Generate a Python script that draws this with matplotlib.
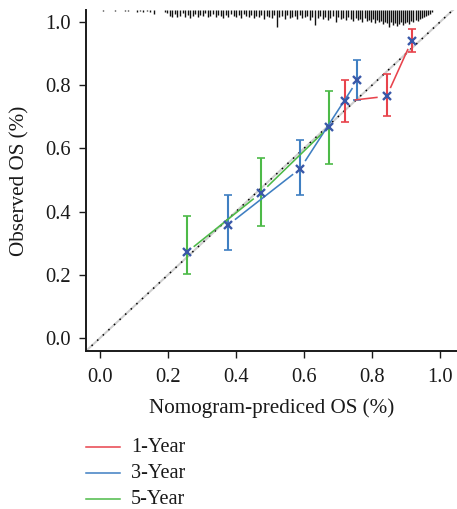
import matplotlib
matplotlib.use("Agg")
import matplotlib.pyplot as plt
import numpy as np

plt.rcParams["font.family"] = ["Liberation Serif", "DejaVu Serif"]

# Calibration groups: nomogram-predicted vs. observed overall survival
pred_1y = [0.722, 0.843, 0.917]
obs_1y = [0.750, 0.765, 0.941]
lo_1y = [0.684, 0.703, 0.906]
hi_1y = [0.816, 0.835, 0.978]

pred_3y = [0.376, 0.589, 0.757]
obs_3y = [0.357, 0.536, 0.815]
lo_3y = [0.278, 0.453, 0.753]
hi_3y = [0.453, 0.627, 0.880]

pred_5y = [0.255, 0.473, 0.674]
obs_5y = [0.271, 0.459, 0.669]
lo_5y = [0.202, 0.354, 0.551]
hi_5y = [0.386, 0.569, 0.783]

series_names = ["1-Year", "3-Year", "5-Year"]
series_colors = ["#e8434c", "#3f7fc2", "#4dba48"]

# Frequency rug of predicted probabilities along the top edge
rug_x = [0.010, 0.044, 0.074, 0.083, 0.108, 0.118, 0.128, 0.137, 0.147, 0.160,
         0.190, 0.197, 0.205, 0.212, 0.220, 0.228, 0.235, 0.243, 0.250, 0.258,
         0.265, 0.273, 0.280, 0.288, 0.295, 0.303, 0.310, 0.318, 0.325, 0.333,
         0.340, 0.348, 0.355, 0.363, 0.370, 0.378, 0.385, 0.393, 0.400, 0.408,
         0.415, 0.423, 0.430, 0.438, 0.445, 0.453, 0.460, 0.468, 0.475, 0.483,
         0.490, 0.498, 0.505, 0.513, 0.520, 0.528, 0.535, 0.543, 0.550, 0.558,
         0.565, 0.573, 0.580, 0.588, 0.595, 0.603, 0.610, 0.618, 0.625, 0.633,
         0.640, 0.648, 0.655, 0.663, 0.670, 0.678, 0.685, 0.693, 0.700, 0.708,
         0.715, 0.723, 0.730, 0.738, 0.745, 0.753, 0.760, 0.766, 0.772, 0.778,
         0.784, 0.790, 0.796, 0.802, 0.808, 0.814, 0.820, 0.826, 0.832, 0.838,
         0.844, 0.850, 0.856, 0.862, 0.868, 0.874, 0.880, 0.886, 0.892, 0.898,
         0.904, 0.910, 0.916, 0.922, 0.928, 0.934, 0.940, 0.946, 0.952, 0.958,
         0.964, 0.970, 0.976]
rug_n = [1, 1, 1, 1, 2, 1, 2, 1, 2, 4,
         2, 3, 6, 7, 4, 7, 6, 3, 7, 5,
         8, 6, 4, 7, 5, 6, 3, 7, 6, 4,
         7, 5, 6, 8, 5, 7, 4, 6, 7, 5,
         8, 4, 6, 7, 5, 8, 6, 7, 5, 9,
         6, 7, 8, 5, 17, 7, 6, 9, 5, 8,
         7, 6, 9, 5, 8, 7, 6, 10, 7, 15,
         8, 6, 9, 7, 10, 8, 6, 12, 7, 9,
         8, 10, 7, 9, 11, 8, 10, 9, 12, 8,
         11, 10, 12, 9, 13, 10, 12, 11, 14, 12,
         13, 17, 12, 15, 13, 16, 14, 12, 15, 13,
         12, 14, 11, 12, 10, 11, 9, 8, 7, 6,
         5, 4, 2]

W, H, DPI = 457, 509, 100
fig = plt.figure(figsize=(W / DPI, H / DPI), dpi=DPI)
ax = fig.add_axes([86 / W, (H - 351) / H, (W - 86) / W, (351 - 10) / H])
ax.set_xlim(-0.041, 1.05)
ax.set_ylim(-0.041, 1.038)

ink = "#1a1a1a"
for side in ("top", "right"):
    ax.spines[side].set_visible(False)
for side in ("left", "bottom"):
    ax.spines[side].set_linewidth(1.4)
    ax.spines[side].set_color(ink)

ticks = [0.0, 0.2, 0.4, 0.6, 0.8, 1.0]
ax.set_xticks(ticks)
ax.set_yticks(ticks)
ax.set_xticklabels([f"{t:.1f}" for t in ticks])
ax.set_yticklabels([f"{t:.1f}" for t in ticks])
ax.tick_params(direction="out", length=5, width=1.0, color=ink,
               labelsize=14.8, labelcolor=ink)
ax.tick_params(axis="x", pad=7)
ax.tick_params(axis="y", pad=6)

# ideal reference line
ax.plot([-0.041, 1.05], [-0.041, 1.05], color="#cfcfcf", lw=1.5, zorder=1)
ax.plot([-0.041, 1.05], [-0.041, 1.05], color="black", lw=1.1,
        linestyle=(0, (1, 4)), zorder=1.1)

# rug ticks hang from the top edge
top = ax.get_ylim()[1]
px_to_y = (ax.get_ylim()[1] - ax.get_ylim()[0]) / (351 - 10)
rug_len = np.array(rug_n) * px_to_y
ax.vlines(rug_x, top - rug_len, top, color="#111111", lw=1.0, zorder=2)


def gapped_line(xs, ys, color, gap=9.0):
    """Connect points like R's type='b': segments stop short of each point."""
    pts = ax.transData.transform(np.column_stack([xs, ys]))
    inv = ax.transData.inverted()
    for p0, p1 in zip(pts[:-1], pts[1:]):
        d = p1 - p0
        length = np.hypot(*d)
        if length <= 2 * gap:
            continue
        u = d / length
        a = inv.transform(p0 + u * gap)
        b = inv.transform(p1 - u * gap)
        ax.plot([a[0], b[0]], [a[1], b[1]], color=color, lw=1.15,
                solid_capstyle="butt", zorder=3)


groups = [
    (pred_1y, obs_1y, lo_1y, hi_1y),
    (pred_3y, obs_3y, lo_3y, hi_3y),
    (pred_5y, obs_5y, lo_5y, hi_5y),
]
for (px, oy, lo, hi), col in zip(groups, series_colors):
    oy_a = np.array(oy)
    yerr = [oy_a - np.array(lo), np.array(hi) - oy_a]
    ax.errorbar(px, oy, yerr=yerr, fmt="none", ecolor=col, elinewidth=1.5,
                capsize=2.8, capthick=1.2, zorder=2.5)
    gapped_line(px, oy, col)

for px, oy, _, _ in groups:
    ax.plot(px, oy, linestyle="none", marker="x", markersize=5.4,
            markeredgewidth=1.7, color="#3a58a8", zorder=4)

ax.set_xlabel("Nomogram-prediced OS (%)", fontsize=15.2, color=ink, va="center")
ax.xaxis.set_label_coords(0.5, (351 - 408) / (351 - 10))
ax.set_ylabel("Observed OS (%)", fontsize=15.2, color=ink, va="center")
ax.yaxis.set_label_coords((20 - 86) / (W - 86), 0.5)

# legend below the plot
leg_rows = [447, 473, 499]
for name, col, yrow in zip(series_names, series_colors, leg_rows):
    yf = (H - yrow) / H
    fig.add_artist(plt.Line2D([86 / W, 120 / W], [yf, yf], color=col, lw=1.1,
                              transform=fig.transFigure))
    fig.text(131 / W, yf, name, fontsize=14.6, color=ink, va="center", ha="left")

fig.savefig("out.png", dpi=DPI)
